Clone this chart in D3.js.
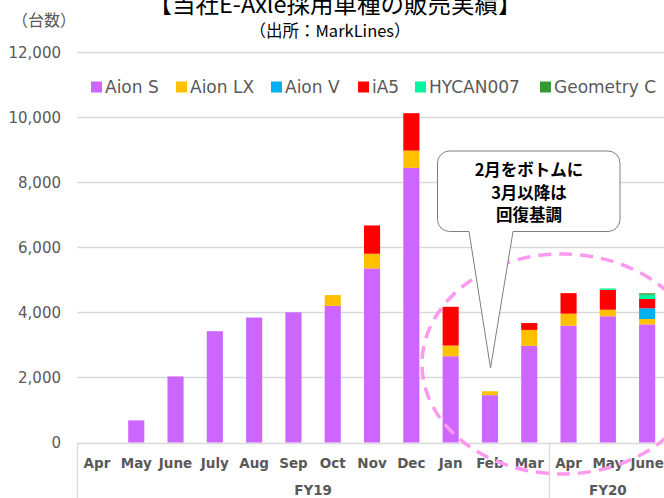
<!DOCTYPE html>
<html lang="ja">
<head>
<meta charset="UTF-8"/>
<title>当社E-Axle採用車種の販売実績</title>
<script src="https://d3js.org/d3.v7.min.js"></script>
<style>
    body { margin: 0; background: #fff; }
    svg { display: block; }
</style>
</head>
<body>
<div id="chart"></div>
<script>
    // Categories (months) and fiscal-year groups
    var months = ["Apr", "May", "June", "July", "Aug", "Sep", "Oct", "Nov", "Dec", "Jan", "Feb", "Mar", "Apr", "May", "June"];
    var fiscalYears = ["FY19", "FY20"];
    var fiscalCounts = [12, 3];

    // Series values (units)
    var seriesNames = ["Aion S", "Aion LX", "Aion V", "iA5", "HYCAN007", "Geometry C"];
    var aionS     = [0, 680, 2030, 3420, 3840, 4000, 4200, 5350, 8440, 2650, 1455, 2970, 3590, 3880, 3630];
    var aionLX    = [0, 0, 0, 0, 0, 0, 330, 450, 530, 330, 120, 490, 370, 200, 165];
    var aionV     = [0, 0, 0, 0, 0, 0, 0, 0, 0, 0, 0, 0, 0, 0, 330];
    var iA5       = [0, 0, 0, 0, 0, 0, 0, 870, 1150, 1190, 0, 210, 630, 615, 285];
    var hycan007  = [0, 0, 0, 0, 0, 0, 0, 0, 0, 0, 0, 0, 0, 40, 130];
    var geometryC = [0, 0, 0, 0, 0, 0, 0, 0, 0, 0, 0, 0, 0, 0, 45];
    var yTicks = [0, 2000, 4000, 6000, 8000, 10000, 12000];

    var colors = ["#cc66ff", "#ffc000", "#00b0f0", "#ff0000", "#00f5a0", "#339933"];

    var width = 664, height = 498;
    var left = 77.3, step = 39.3;
    var zeroY = 442.5, topY = 52;

    var svg = d3.select("#chart").append("svg")
        .attr("width", width)
        .attr("height", height);

    // table for d3.stack
    var table = months.map(function(m, i) {
        return {
            idx: i,
            "Aion S": aionS[i], "Aion LX": aionLX[i], "Aion V": aionV[i],
            "iA5": iA5[i], "HYCAN007": hycan007[i], "Geometry C": geometryC[i]
        };
    });
    var stacked = d3.stack().keys(seriesNames)(table);

    var xScale = d3.scaleBand()
        .domain(d3.range(months.length))
        .range([left, left + step * months.length])
        .paddingInner(0.59)
        .paddingOuter(0.295);

    var yScale = d3.scaleLinear()
        .domain([0, 12000])
        .range([zeroY, topY]);

    var grey = "#d9d9d9", textGrey = "#595959";

    // gridlines
    svg.append("g")
        .selectAll("line")
        .data(yTicks)
        .enter()
        .append("line")
        .attr("x1", left)
        .attr("x2", width)
        .attr("y1", function(d) { return Math.round(yScale(d)) + 0.5; })
        .attr("y2", function(d) { return Math.round(yScale(d)) + 0.5; })
        .attr("stroke", grey)
        .attr("stroke-width", 1.3);

    // y tick labels
    svg.append("g")
        .selectAll("text")
        .data(yTicks)
        .enter()
        .append("text")
        .attr("x", 61)
        .attr("y", function(d) { return yScale(d) + 5.5; })
        .attr("text-anchor", "end")
        .attr("font-family", "DejaVu Sans, Verdana, sans-serif")
        .attr("font-size", "15px")
        .attr("fill", textGrey)
        .text(function(d) { return d3.format(",")(d); });

    // stacked bars
    svg.append("g")
        .selectAll("g")
        .data(stacked)
        .enter()
        .append("g")
        .attr("fill", function(d, i) { return colors[i]; })
        .selectAll("rect")
        .data(function(d) { return d.filter(function(p) { return p[1] > p[0]; }); })
        .enter()
        .append("rect")
        .attr("x", function(d) { return xScale(d.data.idx); })
        .attr("width", xScale.bandwidth())
        .attr("y", function(d) { return yScale(d[1]); })
        .attr("height", function(d) { return yScale(d[0]) - yScale(d[1]); });

    // category axis: vertical separators
    var bounds = [0];
    fiscalCounts.forEach(function(c, i) { bounds.push(bounds[i] + c); });
    svg.append("g")
        .selectAll("line")
        .data(bounds.slice(0, 2))
        .enter()
        .append("line")
        .attr("x1", function(d) { return Math.round(left + step * d) + 0.5; })
        .attr("x2", function(d) { return Math.round(left + step * d) + 0.5; })
        .attr("y1", zeroY)
        .attr("y2", height)
        .attr("stroke", grey)
        .attr("stroke-width", 1.3);

    // month labels
    svg.append("g")
        .selectAll("text")
        .data(months)
        .enter()
        .append("text")
        .attr("x", function(d, i) { return xScale(i) + xScale.bandwidth() / 2; })
        .attr("y", 468)
        .attr("text-anchor", "middle")
        .attr("font-family", "DejaVu Sans, Verdana, sans-serif")
        .attr("font-weight", "bold")
        .attr("font-size", "13.5px")
        .attr("fill", textGrey)
        .text(function(d) { return d; });

    // fiscal year labels
    svg.append("g")
        .selectAll("text")
        .data(fiscalYears)
        .enter()
        .append("text")
        .attr("x", function(d, i) { return left + step * (bounds[i] + fiscalCounts[i] / 2); })
        .attr("y", 495)
        .attr("text-anchor", "middle")
        .attr("font-family", "DejaVu Sans, Verdana, sans-serif")
        .attr("font-weight", "bold")
        .attr("font-size", "13.5px")
        .attr("fill", textGrey)
        .text(function(d) { return d; });

    // legend
    var legendX = [91, 176, 271, 358, 415, 540];
    var legend = svg.append("g")
        .selectAll("g")
        .data(seriesNames)
        .enter()
        .append("g")
        .attr("transform", function(d, i) { return "translate(" + legendX[i] + ",87)"; });
    legend.append("rect")
        .attr("x", 0)
        .attr("y", -5.5)
        .attr("width", 11)
        .attr("height", 11)
        .attr("fill", function(d, i) { return colors[i]; });
    legend.append("text")
        .attr("x", 14)
        .attr("y", 6)
        .attr("font-family", "DejaVu Sans, Verdana, sans-serif")
        .attr("font-size", "17px")
        .attr("fill", textGrey)
        .text(function(d) { return d; });

    // titles
    var jp = "'Noto Sans CJK JP', sans-serif";
    svg.append("text")
        .attr("x", 335)
        .attr("y", 13)
        .attr("text-anchor", "middle")
        .attr("font-family", jp)
        .attr("font-size", "23.5px")
        .attr("fill", "#000")
        .text("【当社E-Axle採用車種の販売実績】");

    svg.append("text")
        .attr("x", 330)
        .attr("y", 37)
        .attr("text-anchor", "middle")
        .attr("font-family", jp)
        .attr("font-size", "16.5px")
        .attr("fill", "#000")
        .text("（出所：MarkLines）");

    svg.append("text")
        .attr("x", 12)
        .attr("y", 26)
        .attr("font-family", jp)
        .attr("font-size", "16px")
        .attr("fill", textGrey)
        .text("（台数）");

    // dashed highlight ellipse
    svg.append("ellipse")
        .attr("cx", 562)
        .attr("cy", 364)
        .attr("rx", 140)
        .attr("ry", 110)
        .attr("fill", "none")
        .attr("stroke", "#ff99f0")
        .attr("stroke-width", 3.5)
        .attr("stroke-dasharray", "13,8");

    // callout
    var callout = svg.append("g");
    var bx0 = 437.5, bx1 = 620, by0 = 151, by1 = 231.5, r = 12;
    var tailL = 469, tailR = 513, tipX = 490.5, tipY = 368;
    var p = d3.path();
    p.moveTo(bx0 + r, by0);
    p.lineTo(bx1 - r, by0);
    p.arcTo(bx1, by0, bx1, by0 + r, r);
    p.lineTo(bx1, by1 - r);
    p.arcTo(bx1, by1, bx1 - r, by1, r);
    p.lineTo(tailR, by1);
    p.lineTo(tipX, tipY);
    p.lineTo(tailL, by1);
    p.lineTo(bx0 + r, by1);
    p.arcTo(bx0, by1, bx0, by1 - r, r);
    p.lineTo(bx0, by0 + r);
    p.arcTo(bx0, by0, bx0 + r, by0, r);
    p.closePath();
    callout.append("path")
        .attr("d", p.toString())
        .attr("fill", "#fff")
        .attr("stroke", "#7f7f7f")
        .attr("stroke-width", 1);

    var calloutLines = ["2月をボトムに", "3月以降は", "回復基調"];
    callout.selectAll("text")
        .data(calloutLines)
        .enter()
        .append("text")
        .attr("x", 529)
        .attr("y", function(d, i) { return 176 + i * 22.5; })
        .attr("text-anchor", "middle")
        .attr("font-family", jp)
        .attr("font-weight", "bold")
        .attr("font-size", "16.5px")
        .attr("fill", "#000")
        .text(function(d) { return d; });
</script>
</body>
</html>
